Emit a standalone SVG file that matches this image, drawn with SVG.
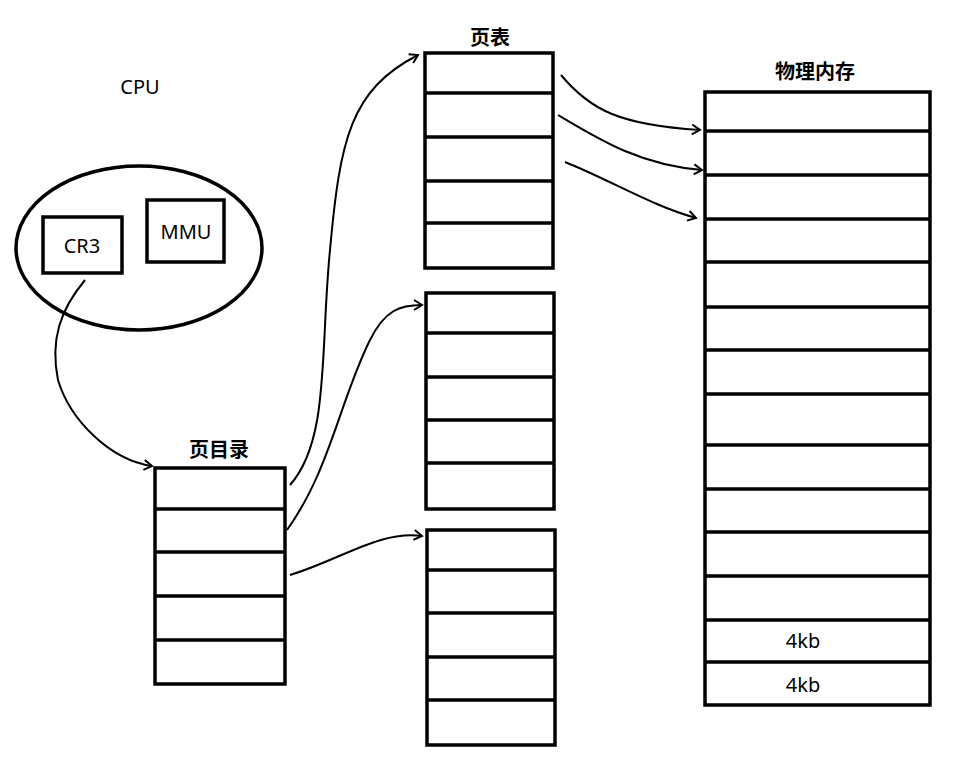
<svg xmlns="http://www.w3.org/2000/svg" width="963" height="761" viewBox="0 0 963 761">
<style>
.b{fill:none;stroke:#000;stroke-width:3.5}
.c{fill:none;stroke:#000;stroke-width:2;marker-end:url(#a)}
text{font-family:"Noto Sans","Noto Sans CJK SC",sans-serif;font-size:20px;fill:#000;text-anchor:middle}
.t{font-weight:bold}
</style>
<defs><marker id="a" markerWidth="14" markerHeight="14" refX="10" refY="6" orient="auto" markerUnits="userSpaceOnUse"><path d="M2,1 L10,6 L2,11" fill="none" stroke="#000" stroke-width="2"/></marker></defs>
<rect width="963" height="761" fill="#fff"/>
<g id="cpu">
<ellipse class="b" cx="139" cy="248" rx="123" ry="82"/>
<text x="140" y="94">CPU</text>
</g>
<g id="cr3"><rect class="b" x="43" y="217" width="79" height="56"/><text x="82" y="253">CR3</text></g>
<g id="mmu"><rect class="b" x="147" y="200" width="77" height="62"/><text x="186" y="239">MMU</text></g>
<g id="pagedir">
<text class="t" x="219" y="457">页目录</text>
<rect class="b" x="155" y="468" width="130" height="216"/>
<path class="b" d="M155 509H285M155 552H285M155 596H285M155 640H285"/>
</g>
<g id="pt1">
<text class="t" x="490" y="45">页表</text>
<rect class="b" x="425" y="53" width="128" height="215"/>
<path class="b" d="M425 93H553M425 137H553M425 181H553M425 223H553"/>
</g>
<g id="pt2">
<rect class="b" x="426" y="293" width="128" height="216"/>
<path class="b" d="M426 333H554M426 377H554M426 420H554M426 463H554"/>
</g>
<g id="pt3">
<rect class="b" x="427" y="530" width="128" height="215"/>
<path class="b" d="M427 570H555M427 613H555M427 657H555M427 700H555"/>
</g>
<g id="mem">
<text class="t" x="815" y="79">物理内存</text>
<rect class="b" x="705" y="92" width="225" height="613"/>
<path class="b" d="M705 131H930M705 175H930M705 219H930M705 262H930M705 307H930M705 350H930M705 394H930M705 445H930M705 489H930M705 532H930M705 576H930M705 620H930M705 662H930"/>
<text x="803" y="648">4kb</text>
<text x="803" y="692">4kb</text>
</g>
<g id="connectors">
<path class="c" d="M85 280C60 310 50 340 58 380C70 420 110 460 152 466"/>
<path class="c" d="M290 485C330 440 320 350 330 250C340 140 350 90 418 55"/>
<path class="c" d="M287 530C330 470 340 400 370 340C385 310 400 305 422 305"/>
<path class="c" d="M290 575C340 560 380 530 422 536"/>
<path class="c" d="M561 75C590 110 620 125 700 130"/>
<path class="c" d="M558 115C600 140 640 165 702 170"/>
<path class="c" d="M565 162C610 180 650 205 696 218"/>
</g>
</svg>
